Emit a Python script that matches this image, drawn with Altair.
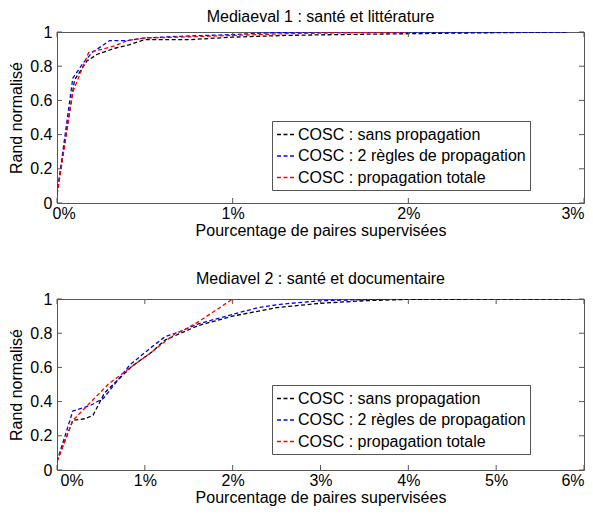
import altair as alt
import pandas as pd

SERIES = ["COSC : sans propagation", "COSC : 2 règles de propagation", "COSC : propagation totale"]
COLORS = ["#000000", "#0000ff", "#ff0000"]
FONT = "Liberation Sans"

# ---- Panel 1 : Mediaeval 1 (x in %) ----
p1_sans_x = [0, 0.1, 0.17, 0.23, 0.33, 0.41, 0.5, 0.75, 1.0, 1.3, 1.6, 2.0, 2.4, 2.9]
p1_sans_y = [0.05, 0.72, 0.83, 0.87, 0.905, 0.925, 0.955, 0.955, 0.97, 0.98, 0.985, 0.99, 0.995, 1.0]
p1_regles_x = [0, 0.09, 0.15, 0.2, 0.3, 0.4, 0.5, 0.7, 1.0, 1.2, 1.5, 2.0, 2.5, 2.9]
p1_regles_y = [0.05, 0.73, 0.82, 0.88, 0.95, 0.95, 0.965, 0.975, 0.985, 0.995, 1.0, 1.0, 1.0, 1.0]
p1_totale_x = [0, 0.09, 0.18, 0.26, 0.33, 0.4, 0.5, 0.7, 1.0, 1.3, 1.6, 2.0]
p1_totale_y = [0.05, 0.65, 0.88, 0.9, 0.92, 0.95, 0.965, 0.97, 0.98, 0.99, 0.995, 1.0]

# ---- Panel 2 : Mediavel 2 ----
p2_sans_x = [0, 0.18, 0.32, 0.41, 0.54, 0.7, 0.85, 1.08, 1.23, 1.61, 2.0, 2.5, 3.0, 3.5, 4.0, 5.85]
p2_sans_y = [0.05, 0.29, 0.30, 0.32, 0.45, 0.53, 0.605, 0.69, 0.76, 0.845, 0.9, 0.95, 0.975, 0.99, 0.998, 1.0]
p2_regles_x = [0, 0.18, 0.39, 0.53, 0.7, 0.83, 1.08, 1.23, 1.38, 1.61, 2.0, 2.29, 2.56, 3.0, 3.75]
p2_regles_y = [0.05, 0.345, 0.38, 0.42, 0.53, 0.615, 0.72, 0.78, 0.805, 0.855, 0.91, 0.95, 0.97, 0.99, 1.0]
p2_totale_x = [0, 0.18, 0.58, 0.85, 1.08, 1.35, 1.43, 1.62, 2.0]
p2_totale_y = [0.05, 0.29, 0.5, 0.605, 0.69, 0.80, 0.815, 0.87, 1.0]

Y_TICKS = [0, 0.2, 0.4, 0.6, 0.8, 1]
P1_X_TICKS = [0, 1, 2, 3]
P2_X_TICKS = [0, 1, 2, 3, 4, 5, 6]

TITLE1 = "Mediaeval 1 : santé et littérature"
TITLE2 = "Mediavel 2 : santé et documentaire"
XTITLE = "Pourcentage de paires supervisées"
YTITLE = "Rand normalisé"

FS = 16
W = 527
BOX = "#555555"


def make_df(xs_list, ys_list):
    rows = []
    for name, xs, ys in zip(SERIES, xs_list, ys_list):
        for i, (a, b) in enumerate(zip(xs, ys)):
            rows.append({"x": a, "y": b, "serie": name, "i": i})
    return pd.DataFrame(rows)


def panel(df, xmax, xticks, title, h, first_shift, title_offset, legend_y):
    xscale = alt.Scale(domain=[0, xmax], nice=False, zero=False)
    yscale = alt.Scale(domain=[0, 1], nice=False)
    xaxis = alt.Axis(values=xticks, labelExpr="datum.value + '%'", title=XTITLE,
                     labelPadding=2, titlePadding=1, labelOverlap=False,
                     labelFlush=True, labelFlushOffset=0,
                     labelOffset={"condition": {"test": "datum.value == 0", "value": first_shift}, "value": 0})
    yaxis = alt.Axis(values=Y_TICKS, format="~g", title=YTITLE, labelPadding=5,
                     titlePadding=5, labelOverlap=False, labelFlush=False)
    lines = alt.Chart(df).mark_line(strokeDash=[4, 2.5], strokeWidth=1.3, clip=True).encode(
        x=alt.X("x:Q", scale=xscale, axis=xaxis),
        y=alt.Y("y:Q", scale=yscale, axis=yaxis),
        color=alt.Color("serie:N", scale=alt.Scale(domain=SERIES, range=COLORS),
                        legend=alt.Legend(title=None, orient="none", legendX=215, legendY=legend_y)),
        order="i:Q",
    )
    xt = pd.DataFrame({"x": xticks})
    yt = pd.DataFrame({"y": Y_TICKS})
    tb = alt.Chart(xt).mark_rule(color=BOX, strokeWidth=1).encode(
        x=alt.X("x:Q", scale=xscale, axis=xaxis), y=alt.value(h), y2=alt.value(h - 5))
    tt = alt.Chart(xt).mark_rule(color=BOX, strokeWidth=1).encode(
        x=alt.X("x:Q", scale=xscale, axis=xaxis), y=alt.value(0), y2=alt.value(5))
    tl = alt.Chart(yt).mark_rule(color=BOX, strokeWidth=1).encode(
        y=alt.Y("y:Q", scale=yscale, axis=yaxis), x=alt.value(0), x2=alt.value(5))
    tr = alt.Chart(yt).mark_rule(color=BOX, strokeWidth=1).encode(
        y=alt.Y("y:Q", scale=yscale, axis=yaxis), x=alt.value(W - 5), x2=alt.value(W))
    return alt.layer(lines, tb, tt, tl, tr).properties(
        width=W, height=h,
        title=alt.TitleParams(title, fontSize=FS, fontWeight="normal", font=FONT,
                              color="black", anchor="middle", frame="group", offset=title_offset),
    )


df1 = make_df([p1_sans_x, p1_regles_x, p1_totale_x], [p1_sans_y, p1_regles_y, p1_totale_y])
df2 = make_df([p2_sans_x, p2_regles_x, p2_totale_x], [p2_sans_y, p2_regles_y, p2_totale_y])

c1 = panel(df1, 3, P1_X_TICKS, TITLE1, 171, -5, -1, 89)
c2 = panel(df2, 6, P2_X_TICKS, TITLE2, 171, 3, 4, 86)

chart = alt.vconcat(c1, c2, spacing=31).resolve_scale(color="independent").resolve_legend(
    color="independent"
).properties(
    padding={"left": 0, "top": 0, "right": 0, "bottom": 0},
    background="white",
).configure_view(
    stroke=BOX, strokeWidth=1
).configure_axis(
    domain=False, ticks=False, grid=False, labelOverlap=False,
    labelFont=FONT, labelFontSize=FS, labelColor="black",
    titleFont=FONT, titleFontSize=FS, titleFontWeight="normal", titleColor="black",
).configure_legend(
    strokeColor=BOX, fillColor="white", padding=4, cornerRadius=0,
    labelFont=FONT, labelFontSize=FS, labelColor="black", labelOffset=3, labelLimit=400,
    symbolType="stroke", symbolDash=[4, 2.5], symbolStrokeWidth=1.3, symbolSize=289,
    rowPadding=3.5,
)

chart.save("out.html", embed_options={"renderer": "svg", "actions": False})
